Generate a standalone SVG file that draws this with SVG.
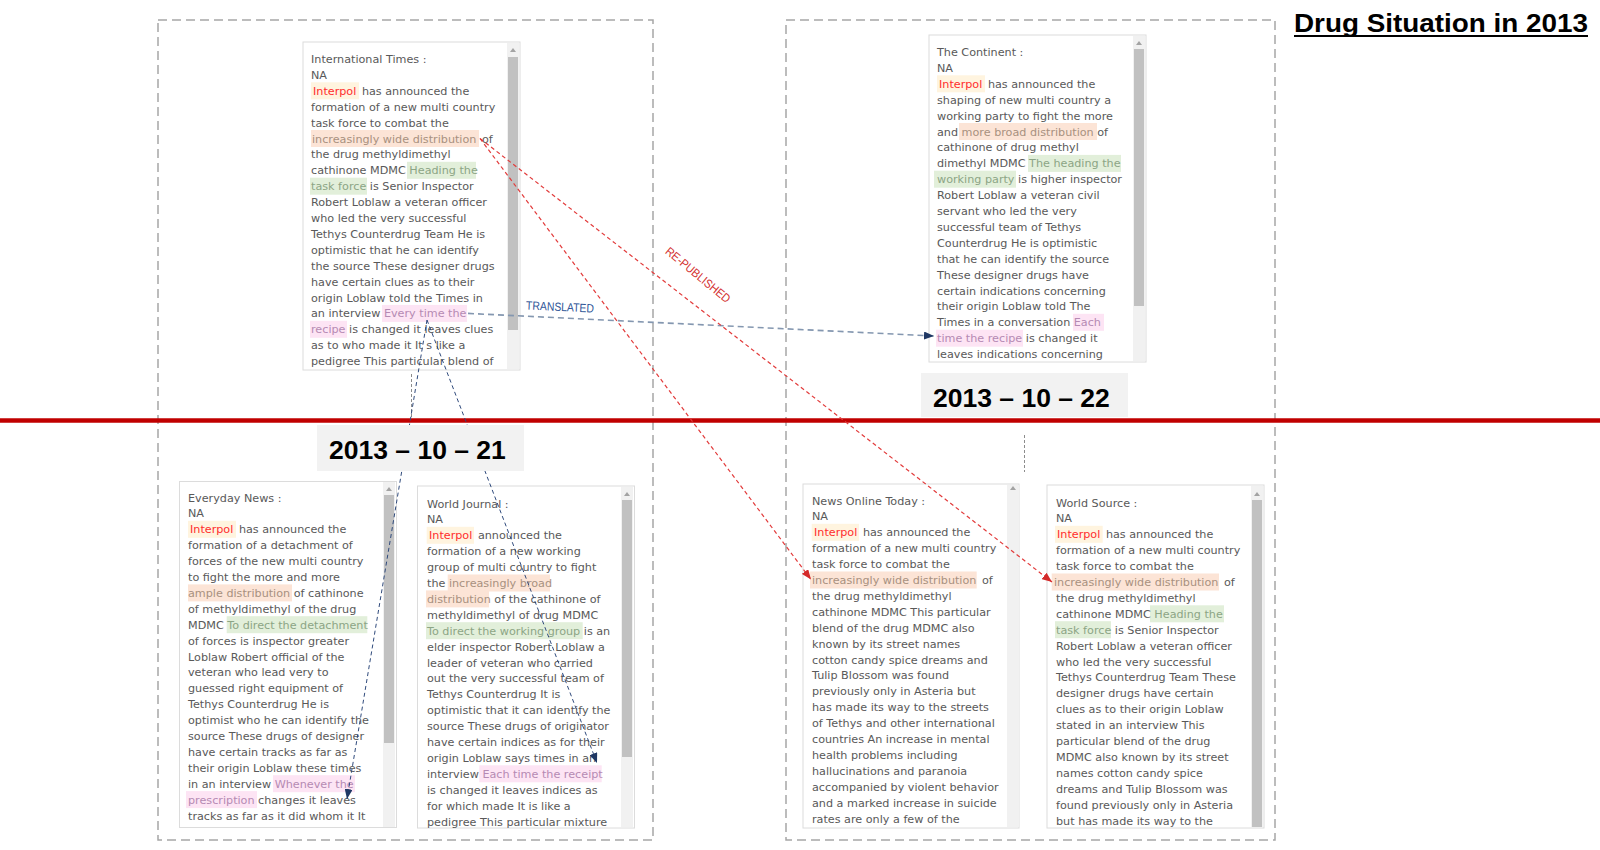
<svg xmlns="http://www.w3.org/2000/svg" width="1600" height="850" viewBox="0 0 1600 850">
<defs>
<style>
.box{fill:none;stroke:#a6a6a6;stroke-width:1.5;stroke-dasharray:9 5}
.panel{fill:#fff;stroke:#dcdcdc;stroke-width:1}
.track{fill:#f1f1f1}
.thumb{fill:#c1c1c1}
.arr{fill:#a3a3a3}
.t{font-family:"DejaVu Sans",Verdana,sans-serif;font-size:11.2px;fill:#595959}
.hy{fill:#fff4df}.hp{fill:#fce4d6}.hg{fill:#e2efda}.hk{fill:#fde4f4}
.ty{fill:#ff2d2d}.tp{fill:#a8917f}.tg{fill:#8ca585}.tk{fill:#b58ab3}
.datebg{fill:#f2f2f2}
.date{font-family:"Liberation Sans",Arial,sans-serif;font-weight:bold;font-size:26.5px;fill:#000}
.red{stroke:#e23b3b;stroke-width:1.2;stroke-dasharray:4 3;fill:none}
.navy{stroke:#2f4a7c;stroke-width:1;stroke-dasharray:4 3;fill:none}
.trans{stroke:#8497b0;stroke-width:1.6;stroke-dasharray:6 4;fill:none}
.guide{stroke:#8c8c8c;stroke-width:1;stroke-dasharray:3 2;fill:none}
.lbl{font-family:"Liberation Sans",Arial,sans-serif;font-size:12px}
</style>
<marker id="mRed" markerUnits="userSpaceOnUse" markerWidth="10" markerHeight="8" refX="10" refY="4" orient="auto"><path d="M0,0 L10,4 L0,8 z" fill="#d42a2a"/></marker>
<marker id="mNavy" markerUnits="userSpaceOnUse" markerWidth="10" markerHeight="8" refX="10" refY="4" orient="auto"><path d="M0,0 L10,4 L0,8 z" fill="#1f3864"/></marker>
</defs>
<rect width="1600" height="850" fill="#fff"/>

<g id="frames">
<rect class="box" x="158" y="20" width="495" height="820"/>
<rect class="box" x="786" y="20" width="489" height="820"/>
</g>

<line id="timeline" x1="0" y1="420.5" x2="1600" y2="420.5" stroke="#c00000" stroke-width="4.5"/>

<g id="title">
<text x="1294" y="32" font-family="'Liberation Sans',Arial,sans-serif" font-weight="bold" font-size="26" textLength="294" lengthAdjust="spacingAndGlyphs" fill="#000">Drug Situation in 2013</text>
<line x1="1294" y1="36" x2="1588" y2="36" stroke="#000" stroke-width="2"/>
</g>

<g id="international-times">
<rect class="panel" x="303" y="42" width="217" height="328"/>
<rect class="track" x="507" y="43" width="12" height="326"/>
<rect class="thumb" x="508" y="57" width="10" height="273"/>
<polygon class="arr" points="510,52 516,52 513,48"/>
<rect class="hy" x="311" y="82.3" width="48" height="17"/>
<rect class="hp" x="311" y="130" width="168" height="17"/>
<rect class="hg" x="407" y="161.8" width="69" height="17"/>
<rect class="hg" x="310" y="177.7" width="57" height="17"/>
<rect class="hk" x="382" y="304.9" width="85" height="17"/>
<rect class="hk" x="310" y="320.8" width="37" height="17"/>
<text class="t" x="311" y="63">International Times :</text>
<text class="t" x="311" y="78.9">NA</text>
<text class="t" x="313" y="94.8"><tspan class="ty">Interpol</tspan><tspan dx="2"> has announced the</tspan></text>
<text class="t" x="311" y="110.7">formation of a new multi country</text>
<text class="t" x="311" y="126.6">task force to combat the</text>
<text class="t" x="312" y="142.5"><tspan class="tp">increasingly wide distribution</tspan><tspan dx="2"> of</tspan></text>
<text class="t" x="311" y="158.4">the drug methyldimethyl</text>
<text class="t" x="311" y="174.3">cathinone MDMC <tspan class="tg">Heading the</tspan></text>
<text class="t" x="311" y="190.2"><tspan class="tg">task force</tspan> is Senior Inspector</text>
<text class="t" x="311" y="206.1">Robert Loblaw a veteran officer</text>
<text class="t" x="311" y="222">who led the very successful</text>
<text class="t" x="311" y="237.9">Tethys Counterdrug Team He is</text>
<text class="t" x="311" y="253.8">optimistic that he can identify</text>
<text class="t" x="311" y="269.7">the source These designer drugs</text>
<text class="t" x="311" y="285.6">have certain clues as to their</text>
<text class="t" x="311" y="301.5">origin Loblaw told the Times in</text>
<text class="t" x="311" y="317.4">an interview <tspan class="tk">Every time the</tspan></text>
<text class="t" x="311" y="333.3"><tspan class="tk">recipe</tspan> is changed it leaves clues</text>
<text class="t" x="311" y="349.2">as to who made it It s like a</text>
<text class="t" x="311" y="365.1">pedigree This particular blend of</text>
</g>

<g id="the-continent">
<rect class="panel" x="929" y="35" width="217" height="327"/>
<rect class="track" x="1133" y="36" width="12" height="325"/>
<rect class="thumb" x="1134" y="49" width="10" height="257"/>
<polygon class="arr" points="1136,45 1142,45 1139,41"/>
<rect class="hy" x="937" y="75.3" width="48" height="17"/>
<rect class="hp" x="959" y="123" width="138" height="17"/>
<rect class="hg" x="1028" y="154.9" width="93" height="17"/>
<rect class="hg" x="934" y="170.7" width="82" height="17"/>
<rect class="hk" x="1073" y="313.8" width="31" height="17"/>
<rect class="hk" x="936" y="329.7" width="87" height="17"/>
<text class="t" x="937" y="56">The Continent :</text>
<text class="t" x="937" y="71.9">NA</text>
<text class="t" x="939" y="87.8"><tspan class="ty">Interpol</tspan><tspan dx="2"> has announced the</tspan></text>
<text class="t" x="937" y="103.7">shaping of new multi country a</text>
<text class="t" x="937" y="119.6">working party to fight the more</text>
<text class="t" x="937" y="135.5">and <tspan class="tp">more broad distribution</tspan> of</text>
<text class="t" x="937" y="151.4">cathinone of drug methyl</text>
<text class="t" x="937" y="167.3">dimethyl MDMC <tspan class="tg">The heading the</tspan></text>
<text class="t" x="937" y="183.2"><tspan class="tg">working party</tspan> is higher inspector</text>
<text class="t" x="937" y="199.1">Robert Loblaw a veteran civil</text>
<text class="t" x="937" y="215">servant who led the very</text>
<text class="t" x="937" y="230.9">successful team of Tethys</text>
<text class="t" x="937" y="246.8">Counterdrug He is optimistic</text>
<text class="t" x="937" y="262.7">that he can identify the source</text>
<text class="t" x="937" y="278.6">These designer drugs have</text>
<text class="t" x="937" y="294.5">certain indications concerning</text>
<text class="t" x="937" y="310.4">their origin Loblaw told The</text>
<text class="t" x="937" y="326.3">Times in a conversation <tspan class="tk">Each</tspan></text>
<text class="t" x="937" y="342.2"><tspan class="tk">time the recipe</tspan> is changed it</text>
<text class="t" x="937" y="358.1">leaves indications concerning</text>
</g>

<g id="everyday-news">
<rect class="panel" x="179.5" y="481.5" width="217" height="346"/>
<rect class="track" x="383" y="482" width="12" height="345"/>
<rect class="thumb" x="384" y="495" width="10" height="248"/>
<polygon class="arr" points="386,491 392,491 389,487"/>
<rect class="hy" x="188" y="520.8" width="48" height="17"/>
<rect class="hp" x="188" y="584.4" width="104" height="17"/>
<rect class="hg" x="226.7" y="616.2" width="140.6" height="17"/>
<rect class="hk" x="273" y="775.2" width="82" height="17"/>
<rect class="hk" x="186" y="791.1" width="71" height="17"/>
<text class="t" x="188" y="501.5">Everyday News :</text>
<text class="t" x="188" y="517.4">NA</text>
<text class="t" x="190" y="533.3"><tspan class="ty">Interpol</tspan><tspan dx="2"> has announced the</tspan></text>
<text class="t" x="188" y="549.2">formation of a detachment of</text>
<text class="t" x="188" y="565.1">forces of the new multi country</text>
<text class="t" x="188" y="581">to fight the more and more</text>
<text class="t" x="188" y="596.9"><tspan class="tp">ample distribution</tspan> of cathinone</text>
<text class="t" x="188" y="612.8">of methyldimethyl of the drug</text>
<text class="t" x="188" y="628.7">MDMC <tspan class="tg">To direct the detachment</tspan></text>
<text class="t" x="188" y="644.6">of forces is inspector greater</text>
<text class="t" x="188" y="660.5">Loblaw Robert official of the</text>
<text class="t" x="188" y="676.4">veteran who lead very to</text>
<text class="t" x="188" y="692.3">guessed right equipment of</text>
<text class="t" x="188" y="708.2">Tethys Counterdrug He is</text>
<text class="t" x="188" y="724.1">optimist who he can identify the</text>
<text class="t" x="188" y="740">source These drugs of designer</text>
<text class="t" x="188" y="755.9">have certain tracks as far as</text>
<text class="t" x="188" y="771.8">their origin Loblaw these times</text>
<text class="t" x="188" y="787.7">in an interview <tspan class="tk">Whenever the</tspan></text>
<text class="t" x="188" y="803.6"><tspan class="tk">prescription</tspan> changes it leaves</text>
<text class="t" x="188" y="819.5">tracks as far as it did whom it It</text>
</g>

<g id="world-journal">
<rect class="panel" x="417.5" y="486" width="217" height="342"/>
<rect class="track" x="621" y="487" width="12" height="340"/>
<rect class="thumb" x="622" y="500" width="10" height="257"/>
<polygon class="arr" points="624,496 630,496 627,492"/>
<rect class="hy" x="426.7" y="526.8" width="47.3" height="17"/>
<rect class="hp" x="447.7" y="574.5" width="102.3" height="17"/>
<rect class="hp" x="426" y="590.4" width="63" height="17"/>
<rect class="hg" x="426" y="622.2" width="156.7" height="17"/>
<rect class="hk" x="479.3" y="765.3" width="122.4" height="17"/>
<text class="t" x="427" y="507.5">World Journal :</text>
<text class="t" x="427" y="523.4">NA</text>
<text class="t" x="429" y="539.3"><tspan class="ty">Interpol</tspan><tspan dx="2"> announced the</tspan></text>
<text class="t" x="427" y="555.2">formation of a new working</text>
<text class="t" x="427" y="571.1">group of multi country to fight</text>
<text class="t" x="427" y="587">the <tspan class="tp">increasingly broad</tspan></text>
<text class="t" x="427" y="602.9"><tspan class="tp">distribution</tspan> of the cathinone of</text>
<text class="t" x="427" y="618.8">methyldimethyl of drug MDMC</text>
<text class="t" x="427" y="634.7"><tspan class="tg">To direct the working group</tspan> is an</text>
<text class="t" x="427" y="650.6">elder inspector Robert Loblaw a</text>
<text class="t" x="427" y="666.5">leader of veteran who carried</text>
<text class="t" x="427" y="682.4">out the very successful team of</text>
<text class="t" x="427" y="698.3">Tethys Counterdrug It is</text>
<text class="t" x="427" y="714.2">optimistic that it can identify the</text>
<text class="t" x="427" y="730.1">source These drugs of originator</text>
<text class="t" x="427" y="746">have certain indices as for their</text>
<text class="t" x="427" y="761.9">origin Loblaw says times in an</text>
<text class="t" x="427" y="777.8">interview <tspan class="tk">Each time the receipt</tspan></text>
<text class="t" x="427" y="793.7">is changed it leaves indices as</text>
<text class="t" x="427" y="809.6">for which made It is like a</text>
<text class="t" x="427" y="825.5">pedigree This particular mixture</text>
</g>

<g id="news-online-today">
<rect class="panel" x="803" y="484" width="216" height="344"/>
<rect class="track" x="1007" y="485" width="12" height="342"/>
<polygon class="arr" points="1010,490 1016,490 1013,486"/>
<rect class="hy" x="811.7" y="523.8" width="47.3" height="17"/>
<rect class="hp" x="810" y="571.5" width="166.7" height="17"/>
<text class="t" x="812" y="504.5">News Online Today :</text>
<text class="t" x="812" y="520.4">NA</text>
<text class="t" x="814" y="536.3"><tspan class="ty">Interpol</tspan><tspan dx="2"> has announced the</tspan></text>
<text class="t" x="812" y="552.2">formation of a new multi country</text>
<text class="t" x="812" y="568.1">task force to combat the</text>
<text class="t" x="812" y="584"><tspan class="tp">increasingly wide distribution</tspan><tspan dx="2"> of</tspan></text>
<text class="t" x="812" y="599.9">the drug methyldimethyl</text>
<text class="t" x="812" y="615.8">cathinone MDMC This particular</text>
<text class="t" x="812" y="631.7">blend of the drug MDMC also</text>
<text class="t" x="812" y="647.6">known by its street names</text>
<text class="t" x="812" y="663.5">cotton candy spice dreams and</text>
<text class="t" x="812" y="679.4">Tulip Blossom was found</text>
<text class="t" x="812" y="695.3">previously only in Asteria but</text>
<text class="t" x="812" y="711.2">has made its way to the streets</text>
<text class="t" x="812" y="727.1">of Tethys and other international</text>
<text class="t" x="812" y="743">countries An increase in mental</text>
<text class="t" x="812" y="758.9">health problems including</text>
<text class="t" x="812" y="774.8">hallucinations and paranoia</text>
<text class="t" x="812" y="790.7">accompanied by violent behavior</text>
<text class="t" x="812" y="806.6">and a marked increase in suicide</text>
<text class="t" x="812" y="822.5">rates are only a few of the</text>
</g>

<g id="world-source">
<rect class="panel" x="1047" y="485" width="217" height="343"/>
<rect class="track" x="1251" y="486" width="12" height="341"/>
<rect class="thumb" x="1252" y="500" width="10" height="327"/>
<polygon class="arr" points="1254,496 1260,496 1257,492"/>
<rect class="hy" x="1055" y="525.8" width="47.7" height="17"/>
<rect class="hp" x="1051.7" y="573.5" width="167.3" height="17"/>
<rect class="hg" x="1150" y="605.3" width="74" height="17"/>
<rect class="hg" x="1055" y="621.2" width="56" height="17"/>
<text class="t" x="1056" y="506.5">World Source :</text>
<text class="t" x="1056" y="522.4">NA</text>
<text class="t" x="1057" y="538.3"><tspan class="ty">Interpol</tspan><tspan dx="2"> has announced the</tspan></text>
<text class="t" x="1056" y="554.2">formation of a new multi country</text>
<text class="t" x="1056" y="570.1">task force to combat the</text>
<text class="t" x="1054" y="586"><tspan class="tp">increasingly wide distribution</tspan><tspan dx="2"> of</tspan></text>
<text class="t" x="1056" y="601.9">the drug methyldimethyl</text>
<text class="t" x="1056" y="617.8">cathinone MDMC <tspan class="tg">Heading the</tspan></text>
<text class="t" x="1056" y="633.7"><tspan class="tg">task force</tspan> is Senior Inspector</text>
<text class="t" x="1056" y="649.6">Robert Loblaw a veteran officer</text>
<text class="t" x="1056" y="665.5">who led the very successful</text>
<text class="t" x="1056" y="681.4">Tethys Counterdrug Team These</text>
<text class="t" x="1056" y="697.3">designer drugs have certain</text>
<text class="t" x="1056" y="713.2">clues as to their origin Loblaw</text>
<text class="t" x="1056" y="729.1">stated in an interview This</text>
<text class="t" x="1056" y="745">particular blend of the drug</text>
<text class="t" x="1056" y="760.9">MDMC also known by its street</text>
<text class="t" x="1056" y="776.8">names cotton candy spice</text>
<text class="t" x="1056" y="792.7">dreams and Tulip Blossom was</text>
<text class="t" x="1056" y="808.6">found previously only in Asteria</text>
<text class="t" x="1056" y="824.5">but has made its way to the</text>
</g>

<g id="connectors">
<line class="guide" x1="411.5" y1="374" x2="411.5" y2="418" stroke="#c8c8c8"/>
<line class="guide" x1="1024.5" y1="435" x2="1024.5" y2="472"/>
<line class="trans" x1="468" y1="313.4" x2="934" y2="336" marker-end="url(#mNavy)"/>
<line class="navy" x1="427" y1="320" x2="347" y2="799" marker-end="url(#mNavy)"/>
<line class="navy" x1="427" y1="320" x2="597" y2="763" marker-end="url(#mNavy)"/>
<line class="red" x1="480" y1="138.5" x2="811" y2="579.5" marker-end="url(#mRed)"/>
<line class="red" x1="480" y1="138.5" x2="1052" y2="582" marker-end="url(#mRed)"/>
<text class="lbl" fill="#2f5597" text-anchor="middle" textLength="68" lengthAdjust="spacingAndGlyphs" transform="translate(560,307) rotate(2.6)" y="4">TRANSLATED</text>
<text class="lbl" fill="#d32f2f" text-anchor="middle" textLength="80" lengthAdjust="spacingAndGlyphs" transform="translate(698,275) rotate(39.5)" y="4">RE-PUBLISHED</text>
</g>

<g id="date-2013-10-21">
<rect class="datebg" x="317" y="425" width="207" height="46"/>
<text class="date" x="329" y="458.5">2013 – 10 – 21</text>
</g>
<g id="date-2013-10-22">
<rect class="datebg" x="921" y="373" width="207" height="44"/>
<text class="date" x="933" y="407">2013 – 10 – 22</text>
</g>
</svg>
